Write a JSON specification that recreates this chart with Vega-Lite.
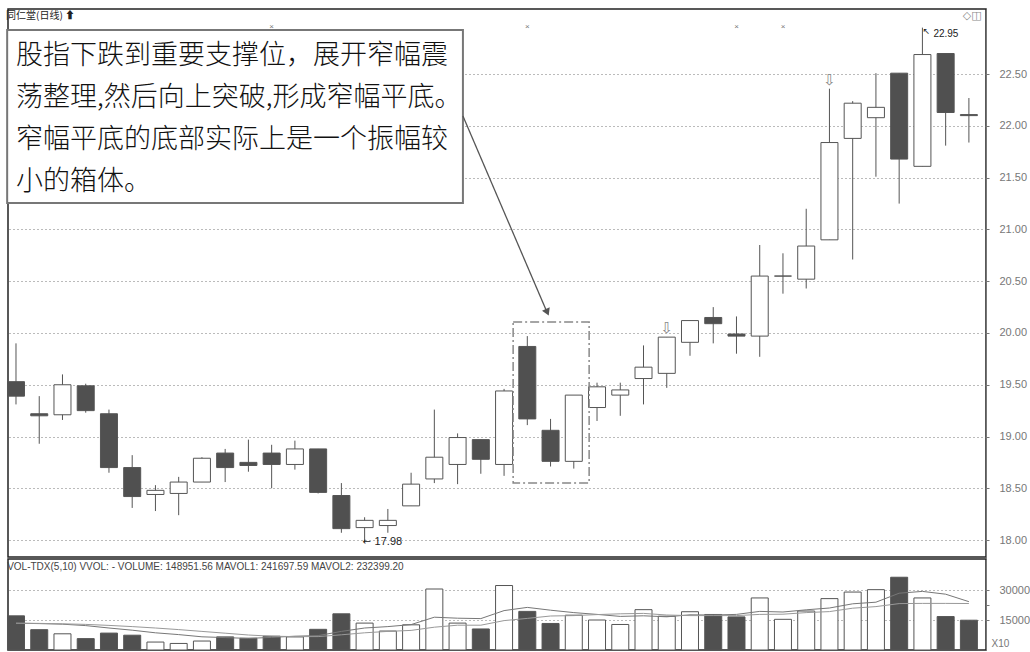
{
  "$schema": "https://vega.github.io/schema/vega-lite/v6.json",
  "background": "white",
  "padding": {"left": 5, "top": 8, "right": 0, "bottom": 0},
  "spacing": 0,
  "config": {
    "view": {"stroke": "#222", "strokeWidth": 1.5},
    "font": "Liberation Sans",
    "axis": {"labelFont": "Liberation Sans", "labelColor": "#777", "domainColor": "#777", "tickColor": "#777", "titleColor": "#777"}
  },
  "datasets": {
    "k": [
      {"i": 1, "o": 19.53, "h": 19.90, "l": 19.31, "c": 19.39, "v": 17070, "ma5": 13400, "ma10": 13400},
      {"i": 2, "o": 19.22, "h": 19.39, "l": 18.93, "c": 19.20, "v": 10170, "ma5": 13200, "ma10": 13300},
      {"i": 3, "o": 19.21, "h": 19.60, "l": 19.16, "c": 19.50, "v": 8100, "ma5": 12900, "ma10": 13100},
      {"i": 4, "o": 19.49, "h": 19.51, "l": 19.23, "c": 19.25, "v": 5690, "ma5": 12200, "ma10": 12800},
      {"i": 5, "o": 19.22, "h": 19.26, "l": 18.65, "c": 18.70, "v": 8450, "ma5": 11000, "ma10": 12300},
      {"i": 6, "o": 18.70, "h": 18.82, "l": 18.31, "c": 18.42, "v": 7400, "ma5": 9900, "ma10": 11700},
      {"i": 7, "o": 18.44, "h": 18.53, "l": 18.28, "c": 18.48, "v": 3970, "ma5": 8600, "ma10": 11000},
      {"i": 8, "o": 18.45, "h": 18.61, "l": 18.24, "c": 18.56, "v": 3280, "ma5": 7700, "ma10": 10200},
      {"i": 9, "o": 18.56, "h": 18.80, "l": 18.56, "c": 18.79, "v": 4480, "ma5": 6600, "ma10": 9300},
      {"i": 10, "o": 18.84, "h": 18.88, "l": 18.56, "c": 18.70, "v": 6550, "ma5": 6200, "ma10": 8400},
      {"i": 11, "o": 18.75, "h": 18.97, "l": 18.66, "c": 18.72, "v": 5860, "ma5": 5800, "ma10": 7500},
      {"i": 12, "o": 18.84, "h": 18.92, "l": 18.50, "c": 18.73, "v": 6900, "ma5": 6300, "ma10": 6900},
      {"i": 13, "o": 18.73, "h": 18.96, "l": 18.68, "c": 18.88, "v": 6550, "ma5": 6900, "ma10": 6700},
      {"i": 14, "o": 18.88, "h": 18.88, "l": 18.45, "c": 18.46, "v": 10340, "ma5": 7200, "ma10": 6700},
      {"i": 15, "o": 18.43, "h": 18.55, "l": 18.07, "c": 18.11, "v": 18100, "ma5": 9300, "ma10": 7600},
      {"i": 16, "o": 18.12, "h": 18.22, "l": 17.98, "c": 18.19, "v": 13450, "ma5": 11000, "ma10": 8600},
      {"i": 17, "o": 18.14, "h": 18.30, "l": 18.07, "c": 18.19, "v": 9480, "ma5": 11700, "ma10": 9300},
      {"i": 18, "o": 18.33, "h": 18.65, "l": 18.33, "c": 18.54, "v": 12590, "ma5": 12700, "ma10": 9800},
      {"i": 19, "o": 18.59, "h": 19.26, "l": 18.55, "c": 18.80, "v": 30500, "ma5": 16400, "ma10": 11400},
      {"i": 20, "o": 18.73, "h": 19.03, "l": 18.54, "c": 18.99, "v": 13450, "ma5": 15900, "ma10": 12400},
      {"i": 21, "o": 18.97, "h": 18.97, "l": 18.64, "c": 18.78, "v": 10520, "ma5": 15700, "ma10": 12400},
      {"i": 22, "o": 18.73, "h": 19.46, "l": 18.62, "c": 19.44, "v": 32240, "ma5": 19700, "ma10": 14700},
      {"i": 23, "o": 19.87, "h": 19.97, "l": 19.11, "c": 19.17, "v": 19310, "ma5": 21300, "ma10": 15800},
      {"i": 24, "o": 19.06, "h": 19.17, "l": 18.71, "c": 18.76, "v": 13270, "ma5": 19900, "ma10": 17000},
      {"i": 25, "o": 18.76, "h": 19.40, "l": 18.69, "c": 19.40, "v": 17410, "ma5": 18700, "ma10": 17200},
      {"i": 26, "o": 19.28, "h": 19.52, "l": 19.15, "c": 19.48, "v": 15000, "ma5": 17800, "ma10": 17700},
      {"i": 27, "o": 19.40, "h": 19.52, "l": 19.20, "c": 19.45, "v": 12760, "ma5": 16800, "ma10": 18100},
      {"i": 28, "o": 19.56, "h": 19.88, "l": 19.31, "c": 19.67, "v": 20170, "ma5": 17100, "ma10": 18300},
      {"i": 29, "o": 19.61, "h": 19.96, "l": 19.47, "c": 19.96, "v": 16900, "ma5": 16600, "ma10": 17500},
      {"i": 30, "o": 19.91, "h": 20.12, "l": 19.78, "c": 20.12, "v": 19140, "ma5": 17600, "ma10": 17200},
      {"i": 31, "o": 20.15, "h": 20.25, "l": 19.90, "c": 20.09, "v": 17760, "ma5": 17500, "ma10": 17200},
      {"i": 32, "o": 19.99, "h": 20.16, "l": 19.80, "c": 19.97, "v": 16550, "ma5": 17800, "ma10": 17200},
      {"i": 33, "o": 19.97, "h": 20.85, "l": 19.77, "c": 20.55, "v": 26030, "ma5": 19300, "ma10": 17800},
      {"i": 34, "o": 20.55, "h": 20.77, "l": 20.38, "c": 20.55, "v": 15340, "ma5": 19000, "ma10": 17900},
      {"i": 35, "o": 20.52, "h": 21.20, "l": 20.43, "c": 20.84, "v": 19480, "ma5": 20100, "ma10": 18700},
      {"i": 36, "o": 20.90, "h": 22.36, "l": 20.90, "c": 21.84, "v": 25690, "ma5": 21000, "ma10": 19200},
      {"i": 37, "o": 21.88, "h": 22.24, "l": 20.71, "c": 22.22, "v": 28970, "ma5": 23100, "ma10": 20900},
      {"i": 38, "o": 22.08, "h": 22.51, "l": 21.51, "c": 22.18, "v": 30170, "ma5": 23900, "ma10": 21700},
      {"i": 39, "o": 22.51, "h": 22.51, "l": 21.25, "c": 21.68, "v": 36380, "ma5": 28400, "ma10": 23200},
      {"i": 40, "o": 21.61, "h": 22.95, "l": 21.61, "c": 22.69, "v": 26030, "ma5": 29300, "ma10": 23300},
      {"i": 41, "o": 22.70, "h": 22.70, "l": 21.81, "c": 22.13, "v": 16720, "ma5": 27900, "ma10": 23300},
      {"i": 42, "o": 22.11, "h": 22.27, "l": 21.84, "c": 22.10, "v": 14895, "ma5": 24170, "ma10": 23240}
    ]
  },
  "vconcat": [
    {
      "width": 978,
      "height": 548,
      "data": {"name": "k"},
      "layer": [
        {
          "mark": {"type": "rule", "color": "#555", "strokeWidth": 1},
          "encoding": {
            "x": {"field": "i", "type": "quantitative", "scale": {"domain": [0.656, 42.736], "nice": false, "zero": false, "padding": 0}, "axis": null},
            "y": {
              "field": "l", "type": "quantitative",
              "scale": {"domain": [17.836, 23.13], "nice": false, "zero": false},
              "axis": {
                "orient": "right", "title": null,
                "values": [18, 18.125, 18.25, 18.375, 18.5, 18.625, 18.75, 18.875, 19, 19.125, 19.25, 19.375, 19.5, 19.625, 19.75, 19.875, 20, 20.125, 20.25, 20.375, 20.5, 20.625, 20.75, 20.875, 21, 21.125, 21.25, 21.375, 21.5, 21.625, 21.75, 21.875, 22, 22.125, 22.25, 22.375, 22.5],
                "labelExpr": "datum.value % 0.25 === 0 ? format(datum.value, '.2f') : ''",
                "labelFontSize": 11, "labelPadding": 10, "tickSize": 3,
                "grid": true, "gridDash": [1, 3], "gridColor": "#777",
                "gridOpacity": {"condition": {"test": "datum.value % 0.5 === 0", "value": 1}, "value": 0}
              }
            },
            "y2": {"field": "h"}
          }
        },
        {
          "mark": {"type": "bar", "size": 17, "stroke": "#555", "strokeWidth": 1, "orient": "vertical"},
          "encoding": {
            "x": {"field": "i", "type": "quantitative"},
            "y": {"field": "o", "type": "quantitative"},
            "y2": {"field": "c"},
            "fill": {"condition": {"test": "datum.c < datum.o", "value": "#505050"}, "value": "#ffffff"}
          }
        },
        {
          "transform": [{"filter": "datum.i == 29 || datum.i == 36"}],
          "mark": {"type": "text", "text": "⇩", "font": "DejaVu Sans", "fontSize": 15, "fill": "#888", "baseline": "middle", "dy": -9},
          "encoding": {"x": {"field": "i", "type": "quantitative"}, "y": {"field": "h", "type": "quantitative"}}
        },
        {
          "transform": [{"filter": "datum.i == 12 || datum.i == 23 || datum.i == 32 || datum.i == 34"}],
          "mark": {"type": "text", "text": "×", "fontSize": 8, "fill": "#777", "baseline": "middle"},
          "encoding": {"x": {"field": "i", "type": "quantitative"}, "y": {"datum": 22.96}}
        },
        {
          "transform": [{"filter": "datum.i == 16"}],
          "mark": {"type": "text", "text": "←", "font": "DejaVu Sans", "fontSize": 10, "fill": "#222", "align": "left", "baseline": "middle", "dx": -2},
          "encoding": {"x": {"field": "i", "type": "quantitative"}, "y": {"field": "l", "type": "quantitative"}}
        },
        {
          "transform": [{"filter": "datum.i == 16"}],
          "mark": {"type": "text", "fontSize": 11, "fill": "#222", "align": "left", "baseline": "middle", "dx": 10},
          "encoding": {"x": {"field": "i", "type": "quantitative"}, "y": {"field": "l", "type": "quantitative"}, "text": {"field": "l", "format": ".2f"}}
        },
        {
          "transform": [{"filter": "datum.i == 40"}],
          "mark": {"type": "text", "text": "↖", "font": "DejaVu Sans", "fontSize": 9, "fill": "#222", "align": "left", "baseline": "middle", "dx": 0, "dy": 3},
          "encoding": {"x": {"field": "i", "type": "quantitative"}, "y": {"field": "h", "type": "quantitative"}}
        },
        {
          "transform": [{"filter": "datum.i == 40"}],
          "mark": {"type": "text", "fontSize": 10, "fill": "#222", "align": "left", "baseline": "middle", "dx": 11, "dy": 6},
          "encoding": {"x": {"field": "i", "type": "quantitative"}, "y": {"field": "h", "type": "quantitative"}, "text": {"field": "h", "format": ".2f"}}
        },
        {
          "data": {"values": [{}]},
          "mark": {"type": "text", "text": "同仁堂(日线) ⬆", "font": "Noto Sans CJK SC", "fontSize": 10, "fill": "#222", "align": "left", "baseline": "middle"},
          "encoding": {"x": {"datum": 0.57, "type": "quantitative"}, "y": {"datum": 23.063, "type": "quantitative"}}
        },
        {
          "data": {"values": [{}]},
          "mark": {"type": "text", "text": "◇◫", "font": "DejaVu Sans", "fontSize": 11, "fill": "#888", "align": "right", "baseline": "middle"},
          "encoding": {"x": {"datum": 42.55, "type": "quantitative"}, "y": {"datum": 23.063, "type": "quantitative"}}
        },
        {
          "data": {"values": [{}]},
          "mark": {"type": "rect", "fill": "#ffffff", "stroke": "#777", "strokeWidth": 2},
          "encoding": {"x": {"datum": 0.62, "type": "quantitative"}, "x2": {"datum": 20.23}, "y": {"datum": 22.928, "type": "quantitative"}, "y2": {"datum": 21.256}}
        },
        {
          "data": {"values": [{}]},
          "mark": {"type": "text", "font": "Noto Sans CJK SC", "fontSize": 27, "fontWeight": 300, "lineHeight": 42, "fill": "#111", "align": "left", "baseline": "top",
            "text": ["股指下跌到重要支撑位，展开窄幅震", "荡整理,然后向上突破,形成窄幅平底。", "窄幅平底的底部实际上是一个振幅较", "小的箱体。"]},
          "encoding": {"x": {"datum": 1.0, "type": "quantitative"}, "y": {"datum": 22.80, "type": "quantitative"}}
        },
        {
          "data": {"values": [{}]},
          "mark": {"type": "rule", "color": "#555", "strokeWidth": 1.3},
          "encoding": {"x": {"datum": 20.23, "type": "quantitative"}, "x2": {"datum": 23.85}, "y": {"datum": 22.097, "type": "quantitative"}, "y2": {"datum": 20.2}}
        },
        {
          "data": {"values": [{}]},
          "mark": {"type": "point", "shape": "triangle-down", "size": 70, "filled": true, "color": "#555", "opacity": 1, "angle": 336.6},
          "encoding": {"x": {"datum": 23.86, "type": "quantitative"}, "y": {"datum": 20.2, "type": "quantitative"}}
        },
        {
          "data": {"values": [{}]},
          "mark": {"type": "rect", "fillOpacity": 0, "stroke": "#888", "strokeWidth": 1.5, "strokeDash": [9, 3, 2, 3]},
          "encoding": {"x": {"datum": 22.39, "type": "quantitative"}, "x2": {"datum": 25.66}, "y": {"datum": 20.106, "type": "quantitative"}, "y2": {"datum": 18.551}}
        }
      ]
    },
    {
      "width": 978,
      "height": 91,
      "data": {"name": "k"},
      "layer": [
        {
          "mark": {"type": "bar", "size": 17, "stroke": "#555", "strokeWidth": 1, "orient": "vertical"},
          "encoding": {
            "x": {"field": "i", "type": "quantitative", "scale": {"domain": [0.656, 42.736], "nice": false, "zero": false, "padding": 0}, "axis": null},
            "y": {
              "field": "v", "type": "quantitative",
              "scale": {"domain": [0, 45500], "nice": false},
              "axis": {
                "orient": "right", "title": "X10", "titleAngle": 0, "titleAlign": "left", "titleBaseline": "middle",
                "titleX": 5, "titleY": 84, "titleFontSize": 10, "titleFontWeight": "normal", "titleFont": "Liberation Sans",
                "values": [15000, 22500, 30000],
                "labelExpr": "datum.value === 22500 ? '' : format(datum.value, 'd')",
                "labelFontSize": 11, "labelPadding": 10, "tickSize": 3,
                "grid": true, "gridDash": [1, 3], "gridColor": "#777",
                "gridOpacity": {"condition": {"test": "datum.value === 22500", "value": 0}, "value": 1}
              }
            },
            "fill": {"condition": {"test": "datum.c < datum.o", "value": "#505050"}, "value": "#ffffff"}
          }
        },
        {
          "mark": {"type": "line", "color": "#777", "strokeWidth": 1},
          "encoding": {"x": {"field": "i", "type": "quantitative"}, "y": {"field": "ma5", "type": "quantitative"}}
        },
        {
          "mark": {"type": "line", "color": "#999", "strokeWidth": 1},
          "encoding": {"x": {"field": "i", "type": "quantitative"}, "y": {"field": "ma10", "type": "quantitative"}}
        },
        {
          "data": {"values": [{}]},
          "mark": {"type": "text", "text": "VOL-TDX(5,10) VVOL: -   VOLUME: 148951.56  MAVOL1: 241697.59  MAVOL2: 232399.20", "fontSize": 10, "fill": "#444", "align": "left", "baseline": "middle"},
          "encoding": {"x": {"datum": 0.62, "type": "quantitative"}, "y": {"datum": 41500, "type": "quantitative"}}
        }
      ]
    }
  ]
}
